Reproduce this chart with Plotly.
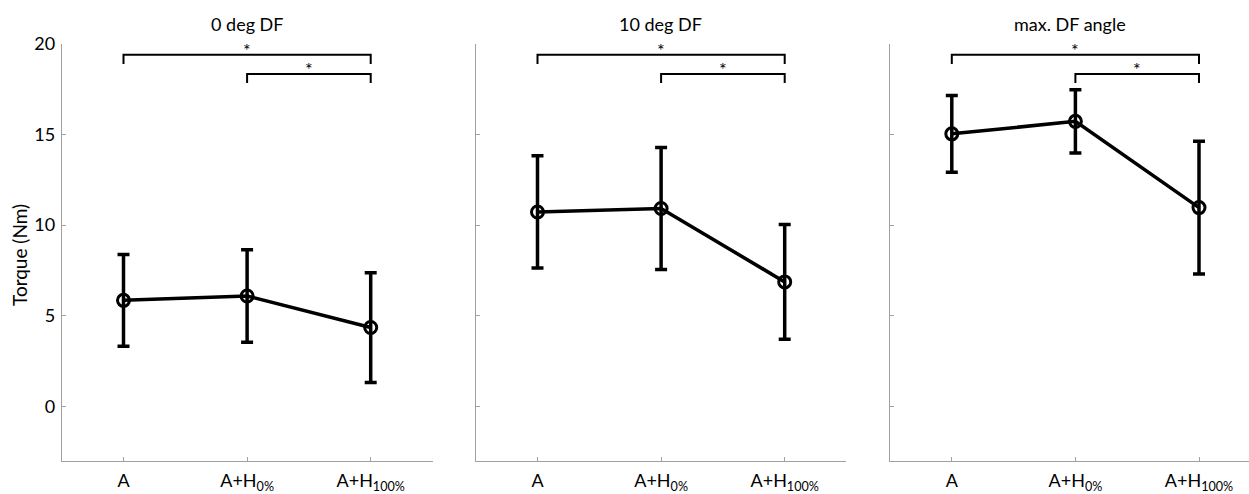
import plotly.graph_objects as go

# ---- data ----
conditions = ["A", "A+H<sub>0%</sub>", "A+H<sub>100%</sub>"]
panel_titles = ["0 deg DF", "10 deg DF", "max. DF angle"]

mean_0deg = [5.85, 6.09, 4.35]
sd_0deg = [2.53, 2.55, 3.03]
mean_10deg = [10.73, 10.92, 6.87]
sd_10deg = [3.10, 3.37, 3.17]
mean_max = [15.04, 15.73, 10.97]
sd_max = [2.12, 1.74, 3.66]

# significance brackets: (from condition index, to condition index, height)
brackets = [(1, 3, 19.4), (2, 3, 18.35)]
bracket_leg = 0.5
y_ticks = [0, 5, 10, 15, 20]
y_title = "Torque (Nm)"

means = [mean_0deg, mean_10deg, mean_max]
sds = [sd_0deg, sd_10deg, sd_max]

W, H = 1249, 494
FONT = "Lato"
AX = "#a0a0a0"

# panel pixel positions
panel_px = [(61.7, 433.0), (475.7, 846.0), (890.0, 1249.0)]
unit_px = 123.6
y_top_px, y_bot_px = 44.0, 460.7

fig = go.Figure()
xpos = [1, 2, 3]

for i in range(3):
    ax_suffix = "" if i == 0 else str(i + 1)
    xa = "x" + ax_suffix
    ya = "y" + ax_suffix
    fig.add_trace(go.Scatter(
        x=xpos, y=means[i], xaxis=xa, yaxis=ya,
        mode="lines+markers",
        line=dict(color="black", width=3.5),
        marker=dict(symbol="circle-open", size=12, color="black", line=dict(width=3, color="black")),
        error_y=dict(type="data", array=sds[i], visible=True, color="black", thickness=3.5, width=6),
        showlegend=False, cliponaxis=False,
    ))
    for (a, b, h) in brackets:
        fig.add_trace(go.Scatter(
            x=[a, a, b, b], y=[h - bracket_leg, h, h, h - bracket_leg],
            xaxis=xa, yaxis=ya, mode="lines",
            line=dict(color="black", width=2),
            showlegend=False, cliponaxis=False, hoverinfo="skip",
        ))
        fig.add_annotation(
            x=(a + b) / 2, y=h, xref=xa, yref=ya, text="*",
            showarrow=False, yanchor="bottom", yshift=-8,
            font=dict(family=FONT, size=18, color="black"),
        )
    x0, x1 = panel_px[i]
    xr_end = 0.5 + (x1 - x0) / unit_px
    xaxis = dict(
        domain=[x0 / W, x1 / W], range=[0.5, xr_end], anchor=ya, automargin=False,
        tickvals=xpos, ticktext=conditions, showline=True, linecolor=AX, linewidth=1,
        ticks="inside", ticklen=4, tickcolor=AX, showgrid=False, zeroline=False,
        ticklabelstandoff=4,
        tickfont=dict(family=FONT, size=18, color="black"),
    )
    yaxis = dict(
        domain=[1 - y_bot_px / H, 1 - y_top_px / H], range=[-3, 20], anchor=xa, automargin=False,
        tickvals=y_ticks, showticklabels=(i == 0), showline=True, linecolor=AX, linewidth=1,
        ticks="inside", ticklen=4, tickcolor=AX, showgrid=False, zeroline=False,
        ticklabelstandoff=2,
        tickfont=dict(family=FONT, size=18, color="black"),
    )
    fig.layout["xaxis" + ax_suffix] = xaxis
    fig.layout["yaxis" + ax_suffix] = yaxis
    fig.add_annotation(
        x=0.5, xref=xa + " domain", y=1 - 24 / H, yref="paper", yanchor="middle",
        text=panel_titles[i], showarrow=False,
        font=dict(family=FONT, size=18, color="black"),
    )

fig.add_annotation(
    x=19 / W, y=1 - 255 / H, xref="paper", yref="paper", xanchor="center", yanchor="middle",
    text=y_title, textangle=-90,
    showarrow=False, font=dict(family=FONT, size=19, color="black"),
)

fig.update_layout(
    width=W, height=H, margin=dict(l=0, r=0, t=0, b=0, autoexpand=False),
    paper_bgcolor="white", plot_bgcolor="white",
    font=dict(family=FONT, color="black"),
)

fig.write_html("out.html", config={"displayModeBar": False},
               post_script="document.body.style.margin='0';")
